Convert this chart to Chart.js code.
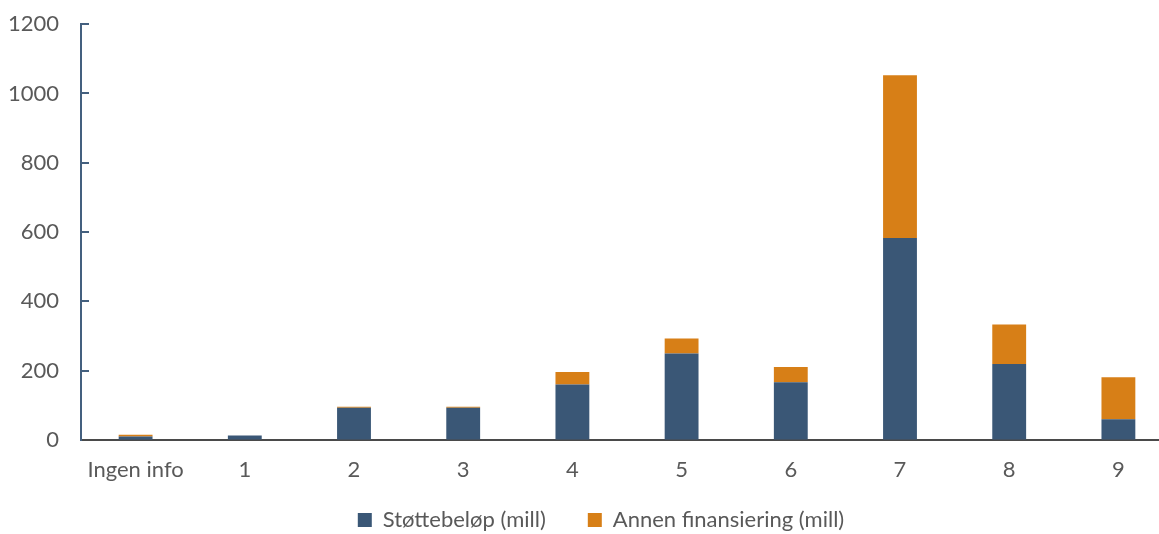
<!DOCTYPE html>
<html lang="no">
<head>
<meta charset="utf-8">
<title>Støttebeløp og annen finansiering</title>
<script src="https://cdn.jsdelivr.net/npm/chart.js@4/dist/chart.umd.min.js"></script>
<style>
  html, body { margin: 0; padding: 0; background: #ffffff; overflow: hidden; }
  #wrap { width: 1175px; height: 534px; }
</style>
</head>
<body>
<div id="wrap"><canvas id="chart" width="1175" height="534"></canvas></div>
<script>
// Categories along the x axis
const categories = ['Ingen info', '1', '2', '3', '4', '5', '6', '7', '8', '9'];

// Stacked series (million NOK)
const stottebelop = [10, 13, 93, 93, 160, 250, 167, 583, 219, 60];
const annenFinansiering = [5, 0, 3, 3, 36, 43, 44, 470, 114, 121];

// Y axis range and step
const yMin = 0;
const yMax = 1200;
const yStep = 200;

const TEXT = '#595959';
const AXIS_Y = '#44607f';
const AXIS_X = '#4a4a4a';
const FONT = 'Lato, "Open Sans", sans-serif';
const FONT_SIZE = 22;
const LEGEND_PAD = 42;

// Short tick marks drawn inward from the value axis line
const innerTicks = {
  id: 'innerTicks',
  afterDraw(chart) {
    const y = chart.scales.y;
    const ctx = chart.ctx;
    ctx.save();
    ctx.strokeStyle = AXIS_Y;
    ctx.lineWidth = 2;
    y.ticks.forEach(t => {
      if (t.value === yMin) return;
      const py = Math.round(y.getPixelForValue(t.value));
      ctx.beginPath();
      ctx.moveTo(chart.chartArea.left, py);
      ctx.lineTo(chart.chartArea.left + 8, py);
      ctx.stroke();
    });
    ctx.restore();
  }
};

// Keeps the legend compact in the layout and places its row below the axis labels
const legendPlacement = {
  id: 'legendPlacement',
  beforeInit(chart) {
    const legend = chart.legend;
    const fit = legend.fit;
    legend.fit = function () {
      fit.call(this);
      this.height = 44;
    };
  },
  afterLayout(chart) {
    const legend = chart.legend;
    const centerY = 520;
    const itemHeight = Math.max(FONT_SIZE, 14);
    legend.top = centerY - LEGEND_PAD - itemHeight / 2;
    legend.height = 100;
    legend.bottom = legend.top + legend.height;
    legend.left += 14.5;
    legend.right += 14.5;
  }
};

new Chart(document.getElementById('chart'), {
  type: 'bar',
  data: {
    labels: categories,
    datasets: [
      {
        label: 'Støttebeløp (mill)',
        data: stottebelop,
        backgroundColor: '#3a5776',
        borderWidth: 0
      },
      {
        label: 'Annen finansiering (mill)',
        data: annenFinansiering,
        backgroundColor: '#d77f17',
        borderWidth: 0
      }
    ]
  },
  options: {
    responsive: false,
    animation: false,
    devicePixelRatio: 1,
    layout: { padding: { left: 0, right: 2, top: 0, bottom: 0 } },
    datasets: {
      bar: { categoryPercentage: 1, barPercentage: 0.31 }
    },
    scales: {
      x: {
        stacked: true,
        grid: { display: false, drawTicks: false },
        border: { display: true, color: AXIS_X, width: 2 },
        ticks: { color: TEXT, font: { family: FONT, size: FONT_SIZE }, padding: 17, maxRotation: 0 },
        afterFit(scale) { scale.height = 50; }
      },
      y: {
        stacked: true,
        min: yMin,
        max: yMax,
        grid: {
          display: true,
          drawOnChartArea: false,
          drawTicks: true,
          tickLength: 11,
          color: 'rgba(0,0,0,0)'
        },
        border: { display: true, color: AXIS_Y, width: 2 },
        ticks: {
          stepSize: yStep,
          color: TEXT,
          font: { family: FONT, size: FONT_SIZE },
          padding: 11,
          callback: (value) => String(value)
        },
        afterFit(scale) { scale.width = 81; }
      }
    },
    plugins: {
      legend: {
        position: 'bottom',
        labels: {
          color: TEXT,
          font: { family: FONT, size: FONT_SIZE },
          boxWidth: 14,
          boxHeight: 14,
          padding: LEGEND_PAD
        }
      },
      tooltip: { enabled: false }
    }
  },
  plugins: [innerTicks, legendPlacement]
});
</script>
</body>
</html>
